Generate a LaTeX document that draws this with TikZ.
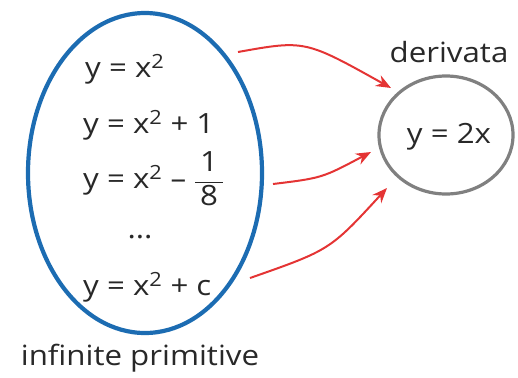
\documentclass[tikz,border=0pt]{standalone}
\usepackage{fontspec}
\setmainfont{Open Sans}[FakeStretch=1.12]
\usetikzlibrary{shapes.geometric,arrows.meta}
\definecolor{eblue}{RGB}{28,108,178}
\definecolor{ered}{RGB}{228,52,52}
\definecolor{egray}{RGB}{128,128,128}
\definecolor{etext}{RGB}{40,40,40}
\tikzset{
  eq/.style={anchor=base west, inner sep=0pt, text=etext, font=\fontsize{28}{30}\selectfont},
  lab/.style={anchor=base, inner sep=0pt, text=etext, font=\fontsize{28}{30}\selectfont},
  arr/.style={draw=ered, line width=2bp, -{Stealth[length=15bp,width=12bp]}},
}
\newcommand{\sq}{\textsuperscript{2}}
\begin{document}
\begin{tikzpicture}[x=1bp,y=-1bp]
\useasboundingbox (0,0) rectangle (518,377);
\node[ellipse, draw=eblue, line width=4.2bp, minimum width=234bp, minimum height=320bp, inner sep=0pt] (prim) at (145,173) {};
\node[ellipse, draw=egray, line width=3.2bp, minimum width=134bp, minimum height=118bp, inner sep=0pt] (der) at (446,135) {};
\node[lab] (dtext) at (449,143) {y = 2x};
\node[lab] (dlab) at (449,62) {derivata};
\node[lab] (plab) at (140,365) {infinite primitive};
\node[eq] (e1) at (85,77) {y = x\sq};
\node[eq] (e2) at (83,133) {y = x\sq\ + 1};
\node[eq] (e3) at (83,188) {y = x\sq\ – $\displaystyle\frac{\mbox{\,1\,}}{\mbox{\,8\,}}$};
\node[lab] (e4) at (140,238) {...};
\node[eq] (e5) at (83,295) {y = x\sq\ + c};
\coordinate (s1) at (238,52);
\coordinate (s2) at (273,184);
\coordinate (s3) at (250,278);
\coordinate (t1) at (391,88);
\coordinate (t2) at (371,152);
\coordinate (t3) at (387,188);
\draw[arr] (s1) .. controls (305,40) .. (t1);
\draw[arr] (s2) .. controls (322,178) .. (t2);
\draw[arr] (s3) .. controls (330,250) .. (t3);
\end{tikzpicture}
\end{document}
